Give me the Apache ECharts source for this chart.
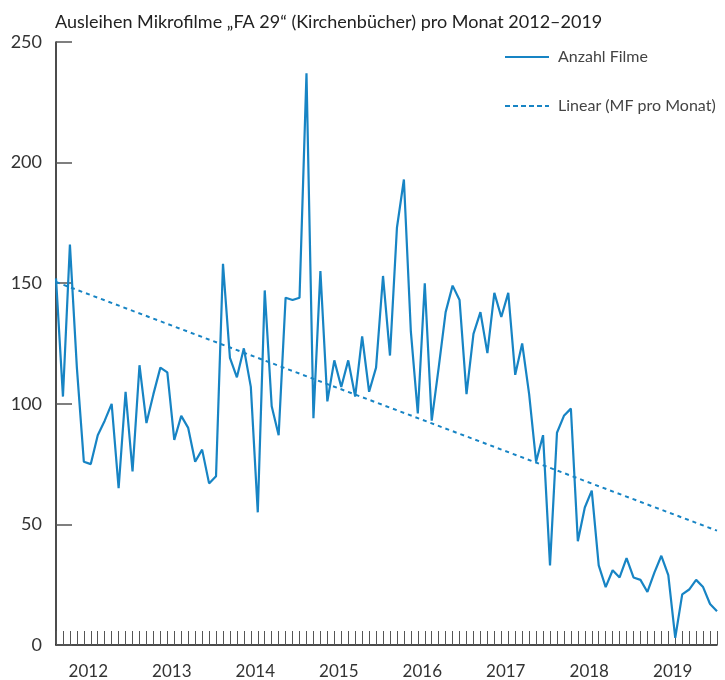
<!DOCTYPE html>
<html>
<head>
<meta charset="utf-8">
<script src="https://cdn.jsdelivr.net/npm/echarts@6/dist/echarts.min.js"></script>
<style>
  html, body { margin: 0; padding: 0; background: #fff; }
  #chart { width: 725px; height: 680px; }
</style>
</head>
<body>
<div id="chart"></div>
<script>
const years = [2012, 2013, 2014, 2015, 2016, 2017, 2018, 2019];
const yTicks = [0, 50, 100, 150, 200, 250];

// Anzahl Filme pro Monat (Jan 2012 .. Dez 2019)
const filme2012 = [152, 103, 166, 115, 76, 75, 87, 93, 100, 65, 105, 72];
const filme2013 = [116, 92, 104, 115, 113, 85, 95, 90, 76, 81, 67, 70];
const filme2014 = [158, 119, 111, 123, 107, 55, 147, 99, 87, 144, 143, 144];
const filme2015 = [237, 94, 155, 101, 118, 107, 118, 103, 128, 105, 115, 153];
const filme2016 = [120, 173, 193, 130, 96, 150, 93, 115, 138, 149, 143, 104];
const filme2017 = [129, 138, 121, 146, 136, 146, 112, 125, 104, 76, 87, 33];
const filme2018 = [88, 95, 98, 43, 57, 64, 33, 24, 31, 28, 36, 28];
const filme2019 = [27, 22, 30, 37, 29, 3, 21, 23, 27, 24, 17, 14];

// Linearer Trend: Werte am ersten und letzten Monat
const trendStart = 150.5;
const trendEnd = 47.4;

const filme = [].concat(filme2012, filme2013, filme2014, filme2015,
  filme2016, filme2017, filme2018, filme2019);
const months = [];
years.forEach(y => {
  for (let m = 1; m <= 12; m++) months.push(y + '-' + (m < 10 ? '0' + m : m));
});

const blue = '#1784c4';
const font = 'Lato';

const chart = echarts.init(document.getElementById('chart'));
chart.setOption({
  animation: false,
  title: {
    text: 'Ausleihen Mikrofilme „FA 29“ (Kirchenbücher) pro Monat 2012–2019',
    left: 50,
    top: 8,
    textStyle: { fontFamily: font, fontSize: 18, fontWeight: 'normal', color: '#222' }
  },
  legend: {
    orient: 'vertical',
    left: 500,
    top: 44,
    itemGap: 33,
    itemWidth: 44,
    itemHeight: 14,
    textStyle: { fontFamily: font, fontSize: 16, color: '#444', padding: [0, 0, 0, 4] },
    data: [
      { name: 'Anzahl Filme', icon: 'path://M0,6 L44,6 L44,8 L0,8 Z' },
      { name: 'Linear (MF pro Monat)', icon: 'path://M0,6 L5,6 L5,8 L0,8 Z M8,6 L13,6 L13,8 L8,8 Z M16,6 L21,6 L21,8 L16,8 Z M24,6 L29,6 L29,8 L24,8 Z M32,6 L37,6 L37,8 L32,8 Z M40,6 L44,6 L44,8 L40,8 Z' }
    ]
  },
  grid: { left: 56, right: 8, top: 42, bottom: 35 },
  xAxis: {
    type: 'category',
    data: months,
    boundaryGap: false,
    axisLine: { lineStyle: { color: '#111', width: 1.5 } },
    axisTick: {
      inside: true,
      length: 14,
      interval: 0,
      lineStyle: { color: '#555', width: 1 }
    },
    axisLabel: {
      interval: i => i % 12 === 5,
      formatter: v => v.slice(0, 4),
      fontFamily: font,
      fontSize: 17,
      color: '#333',
      margin: 18,
      padding: [0, 5, 0, 0]
    },
    splitLine: { show: false }
  },
  yAxis: {
    type: 'value',
    min: yTicks[0],
    max: yTicks[yTicks.length - 1],
    interval: 50,
    axisLine: { show: true, lineStyle: { color: '#111', width: 1.5 } },
    axisTick: { show: true, inside: true, length: 16, lineStyle: { color: '#555', width: 1.5 } },
    axisLabel: { fontFamily: font, fontSize: 18, color: '#333', margin: 14 },
    splitLine: { show: false }
  },
  series: [
    {
      name: 'Anzahl Filme',
      type: 'line',
      data: filme,
      showSymbol: false,
      lineStyle: { color: blue, width: 2.2 },
      itemStyle: { color: blue },
      z: 3
    },
    {
      name: 'Linear (MF pro Monat)',
      type: 'line',
      data: [[0, trendStart], [months.length - 1, trendEnd]],
      showSymbol: false,
      lineStyle: { color: blue, width: 2, type: [4, 4] },
      itemStyle: { color: blue },
      z: 2
    }
  ]
});
</script>
</body>
</html>
